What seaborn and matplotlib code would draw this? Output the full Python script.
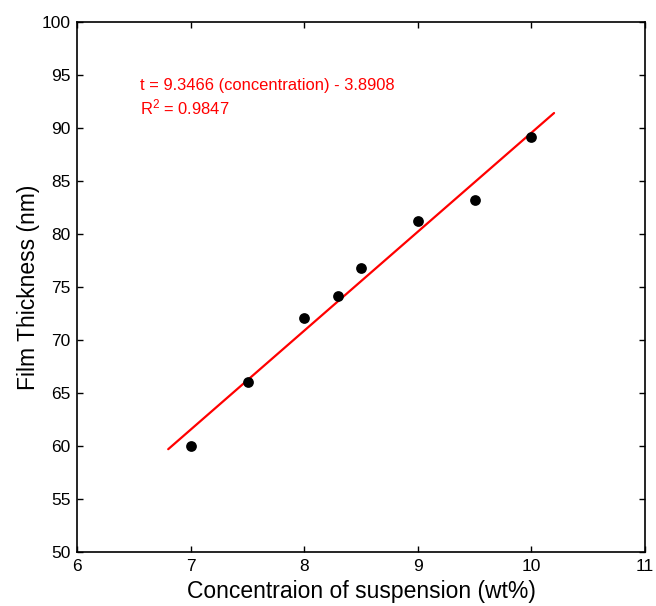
import pandas as pd
import seaborn as sns
import matplotlib.pyplot as plt

# dados medidos
concentracao = [7.0, 7.5, 8.0, 8.3, 8.5, 9.0, 9.5, 10.0]
espessura = [60.0, 66.0, 72.1, 74.1, 76.8, 81.2, 83.2, 89.1]

# reta de ajuste (extremos)
ajuste_x = [6.8, 10.2]
ajuste_y = [59.7, 91.4]

equacao = 't = 9.3466 (concentration) - 3.8908'
r2 = '$\\mathregular{R^2}$ = 0.9847'

sns.set_style('white')
plt.rcParams['font.family'] = ['Liberation Sans', 'DejaVu Sans']

dados = pd.DataFrame({'conc': concentracao, 'esp': espessura})
reta = pd.DataFrame({'x': ajuste_x, 'y': ajuste_y})

fig, ax = plt.subplots(figsize=(6.56, 6.06), dpi=100)
fig.subplots_adjust(left=0.118, right=0.983, bottom=0.089, top=0.964)

sns.lineplot(x='x', y='y', data=reta, color='red', linewidth=1.6, ax=ax)
sns.scatterplot(x='conc', y='esp', data=dados, color='black', s=60,
                edgecolor='black', linewidth=0, ax=ax, zorder=3)

ax.text(6.55, 94.0, equacao, color='red', fontsize=11.9, va='center')
ax.text(6.55, 91.9, r2, color='red', fontsize=11.9, va='center')

ax.set_xlim(6, 11)
ax.set_ylim(50, 100)
ax.set_xticks(range(6, 12))
ax.set_yticks(range(50, 101, 5))
ax.tick_params(direction='in', length=4, width=1, labelsize=12.5,
               labelcolor='black', color='black',
               top=True, right=True, bottom=True, left=True, pad=5)
for lado in ax.spines.values():
    lado.set_color('black')
    lado.set_linewidth(1.2)

ax.set_xlabel('Concentraion of suspension (wt%)', fontsize=16.5,
              labelpad=4, color='black')
ax.set_ylabel('Film Thickness (nm)', fontsize=16.5, labelpad=1,
              color='black')

plt.savefig('out.png', dpi=100)
